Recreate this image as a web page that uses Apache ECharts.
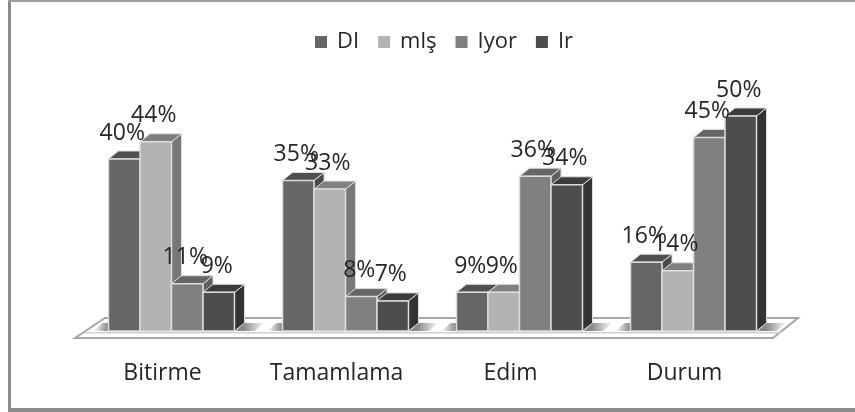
<!DOCTYPE html>
<html>
<head>
<meta charset="utf-8">
<style>
html,body{margin:0;padding:0;background:#fff}
#chart{width:855px;height:412px}
</style>
<script src="https://cdn.jsdelivr.net/npm/echarts@6/dist/echarts.min.js"></script>
</head>
<body>
<div id="chart"></div>
<script>
var categories = ['Bitirme', 'Tamamlama', 'Edim', 'Durum'];
var seriesNames = ['DI', 'mlş', 'Iyor', 'Ir'];
var diValues = [40, 35, 9, 16];
var mlsValues = [44, 33, 9, 14];
var iyorValues = [11, 8, 36, 45];
var irValues = [9, 7, 34, 50];
var allValues = [diValues, mlsValues, iyorValues, irValues];

var frontColors = ['#666666', '#b2b2b2', '#808080', '#4d4d4d'];
var topColors = ['#4f4f4f', '#808080', '#666666', '#3c3c3c'];
var sideColors = ['#4a4a4a', '#787878', '#5f5f5f', '#333333'];

var depthX = 10, depthY = 8;
var fontName = '"Open Sans", sans-serif';

function shadowFill(x, x2, start) {
	return {type: 'linear', x: x, y: 0, x2: x2, y2: 0, colorStops: [{offset: 0, color: '#8a8a8a'}, {offset: start, color: '#8a8a8a'}, {offset: 1, color: '#ffffff'}]};
}

// one 3d bar: side, top, front and the label above
function barItem(i) {
	return function(params, api) {
		var band = api.size([1, 0])[0];
		var w = band * 0.181;
		var c = api.coord([api.value(0), api.value(1)]);
		var base = api.coord([api.value(0), 0])[1];
		var x0 = c[0] + (i - 2) * w;
		var x1 = x0 + w;
		var top = c[1];
		var kids = [];
		// floor shadow on the outer sides of each group
		if (i == 0) {
			kids.push({type: 'polygon', shape: {points: [[x0 - 15, base], [x0 - 6, base - 8], [x0, base - 8], [x0, base]]},
				style: {fill: shadowFill(1, 0, 0.05)}});
		}
		if (i == 3) {
			kids.push({type: 'polygon', shape: {points: [[x1 + 1, base], [x1 + depthX, base - 8], [x1 + 30, base - 8], [x1 + 20, base]]},
				style: {fill: shadowFill(0, 1, 0.3)}});
		}
		kids.push(
			{type: 'polygon', shape: {points: [[x1, top], [x1 + depthX, top - depthY], [x1 + depthX, base - depthY], [x1, base]]},
				style: {fill: sideColors[i], stroke: '#dcdcdc', lineWidth: 1}},
			{type: 'polygon', shape: {points: [[x0, top], [x0 + depthX, top - depthY], [x1 + depthX, top - depthY], [x1, top]]},
				style: {fill: topColors[i], stroke: '#dcdcdc', lineWidth: 1}},
			{type: 'rect', shape: {x: x0, y: top, width: w, height: base - top},
				style: {fill: frontColors[i], stroke: '#dcdcdc', lineWidth: 1.5}},
			{type: 'text', z2: 20, style: {x: (x0 + x1) / 2 - 2, y: top - 26, text: api.value(1) + '%', align: 'center', verticalAlign: 'middle',
				font: '23px ' + fontName, fill: '#262626'}}
		);
		return {type: 'group', children: kids};
	};
}

// floor under the bars, taken from the grid rect
function floorItem(params) {
	var g = params.coordSys;
	var base = g.y + g.height;
	var l = g.x - 9.5, r = g.x + g.width + 17.5;
	return {
		type: 'group',
		children: [
			{type: 'polygon', shape: {points: [[l, base + 7], [l + 30, base - 13], [r, base - 13], [r - 25, base + 7]]},
				style: {fill: '#ffffff', stroke: '#a6a6a6', lineWidth: 2}},
			{type: 'rect', shape: {x: l + 10, y: base + 1, width: r - l - 27, height: 1.5}, style: {fill: '#cfcfcf'}}
		]
	};
}

var series = [{
	type: 'custom',
	name: 'floor',
	silent: true,
	renderItem: floorItem,
	data: [0]
}];
for (var i = 0; i < seriesNames.length; i++) {
	series.push({
		type: 'custom',
		name: seriesNames[i],
		renderItem: barItem(i),
		itemStyle: {color: frontColors[i]},
		encode: {x: 0, y: 1},
		data: categories.map(function(c, k) { return [k, allValues[i][k]]; })
	});
}

var myChart = echarts.init(document.getElementById('chart'));
var option = {
	backgroundColor: '#ffffff',
	animation: false,
	graphic: [
		{type: 'rect', silent: true, shape: {x: 8, y: 0, width: 3, height: 412}, style: {fill: '#8c8c8c'}},
		{type: 'rect', silent: true, shape: {x: 8, y: 0, width: 847, height: 2}, style: {fill: '#a0a0a0'}},
		{type: 'rect', silent: true, shape: {x: 8, y: 408, width: 847, height: 4}, style: {fill: '#8c8c8c'}}
	],
	legend: {
		data: seriesNames,
		top: 26,
		left: 310,
		icon: 'rect',
		itemWidth: 12,
		itemHeight: 12,
		itemGap: 19,
		textStyle: {fontFamily: fontName, fontSize: 22, color: '#262626', padding: [0, 0, 0, 5]}
	},
	grid: {left: 84.5, top: 116, width: 696, height: 215},
	xAxis: {
		type: 'category',
		data: categories,
		axisLine: {show: false},
		axisTick: {show: false},
		axisLabel: {margin: 31, padding: [0, 18, 0, 0], fontFamily: fontName, fontSize: 23, color: '#262626'}
	},
	yAxis: {type: 'value', min: 0, max: 50, show: false},
	series: series
};
myChart.setOption(option);
</script>
</body>
</html>
